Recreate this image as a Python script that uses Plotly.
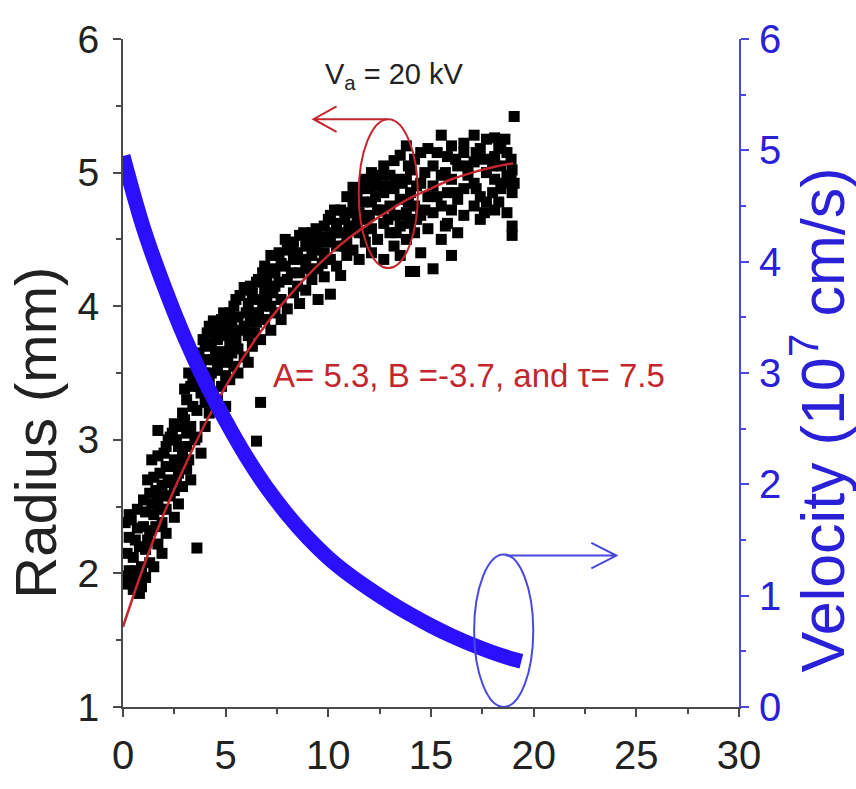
import plotly.graph_objects as go

# ---------------- data ----------------
scatter_t = [
    0.1, 0.1, 0.3, 0.3, 0.3, 0.5, 0.5, 0.7, 0.7, 0.7, 0.9, 0.9,
    1.1, 1.1, 1.1, 1.3, 1.3, 1.3, 1.5, 1.5, 1.5, 1.7, 1.7, 1.7, 1.7,
    1.9, 1.9, 1.9, 2.1, 2.1, 2.1, 2.1, 2.3, 2.3, 2.3, 2.5, 2.5, 2.5, 2.5,
    2.7, 2.7, 2.7, 2.9, 2.9, 2.9, 3.1, 3.1, 3.1, 3.1, 3.3, 3.3, 3.3,
    3.6, 3.6, 3.6, 3.6, 3.8, 3.8, 3.8, 4.0, 4.0, 4.0, 4.0, 4.2, 4.2, 4.2,
    4.4, 4.4, 4.4, 4.6, 4.6, 4.6, 4.8, 4.8, 4.8, 5.0, 5.0, 5.0, 5.0,
    5.2, 5.2, 5.2, 5.4, 5.4, 5.4, 5.6, 5.6, 5.6, 5.9, 5.9, 5.9,
    6.1, 6.1, 6.1, 6.3, 6.3, 6.3, 6.5, 6.5, 6.5, 6.7, 6.7, 6.7,
    6.9, 6.9, 6.9, 7.2, 7.2, 7.2, 7.4, 7.4, 7.4, 7.7, 7.7, 7.7,
    8.0, 8.0, 8.0, 8.3, 8.3, 8.3, 8.6, 8.6, 8.6, 8.9, 8.9, 8.9,
    9.2, 9.2, 9.2, 9.5, 9.5, 9.5, 9.8, 9.8, 9.8, 10.1, 10.1, 10.1, 10.1,
    10.4, 10.4, 10.4, 10.6, 10.6, 10.6, 10.9, 10.9, 10.9,
    11.2, 11.2, 11.2, 11.2, 11.5, 11.5, 11.5, 11.5, 11.8, 11.8, 11.8,
    12.1, 12.1, 12.1, 12.1, 12.4, 12.4, 12.4, 12.7, 12.7, 12.7, 12.7,
    13.0, 13.0, 13.0, 13.2, 13.2, 13.2, 13.2, 13.5, 13.5, 13.5, 13.5,
    13.8, 13.8, 13.8, 13.8, 14.0, 14.0, 14.0, 14.0, 14.2, 14.2, 14.2, 14.2,
    14.5, 14.5, 14.5, 14.5, 14.85, 14.85, 14.85, 15.1, 15.1, 15.1, 15.1,
    15.5, 15.5, 15.5, 15.5, 15.8, 15.8, 15.8, 16.0, 16.0, 16.0, 16.0,
    16.3, 16.3, 16.3, 16.6, 16.6, 16.6, 16.6, 17.1, 17.1, 17.1, 17.1,
    17.4, 17.4, 17.4, 17.7, 17.7, 17.7, 18.1, 18.1, 18.1, 18.1,
    18.4, 18.4, 18.4, 18.7, 18.7, 18.7, 18.95, 18.95, 18.95, 18.95,
    19.05, 19.05,
    # second pass of points (denser parts of the band)
    0.2, 0.2, 0.4, 0.4, 0.6, 0.6, 0.8, 0.8, 1.0, 1.0, 1.2, 1.2,
    1.4, 1.4, 1.6, 1.6, 1.8, 1.8, 2.0, 2.0, 2.2, 2.2, 2.4, 2.4,
    2.6, 2.6, 2.8, 2.8, 3.0, 3.0, 3.2, 3.2, 3.4, 3.4, 3.5, 3.5,
    3.7, 3.7, 3.9, 3.9, 4.1, 4.1, 4.3, 4.3, 4.5, 4.5, 4.7, 4.7,
    4.9, 4.9, 5.1, 5.1, 5.3, 5.3, 5.5, 5.5, 5.7, 5.7, 6.0, 6.0,
    6.2, 6.2, 6.4, 6.4, 6.6, 6.6, 6.8, 6.8, 7.0, 7.0, 7.3, 7.3,
    7.6, 7.6, 7.9, 7.9, 8.2, 8.2, 8.5, 8.5, 8.8, 8.8, 9.0, 9.0,
    9.4, 9.4, 9.7, 9.7, 10.0, 10.0, 10.3, 10.3, 10.8, 10.8, 11.0, 11.0,
    11.4, 11.4, 11.7, 11.7, 12.0, 12.0, 12.3, 12.3, 12.6, 12.6, 12.9, 12.9,
    13.3, 13.3, 13.6, 13.6, 13.9, 13.9, 14.3, 14.3, 14.7, 14.7, 15.3, 15.3,
    15.7, 15.7, 16.2, 16.2, 16.8, 16.8, 17.2, 17.2, 17.6, 17.6, 18.0, 18.0,
    18.3, 18.3, 18.6, 18.6, 18.9, 18.9,
]
scatter_r = [
    1.92, 2.38, 2.02, 2.27, 2.44, 1.88, 2.12, 1.95, 2.34, 2.48, 2.05, 1.90,
    2.18, 2.46, 1.97, 2.32, 2.60, 2.08, 2.05, 2.44, 2.72, 2.22, 2.55, 3.07, 2.88,
    2.38, 2.66, 2.15, 2.48, 2.80, 2.95, 2.30, 2.58, 2.70, 3.02, 2.42, 2.85, 3.12, 2.62,
    2.75, 2.95, 2.52, 2.88, 3.20, 2.65, 2.95, 3.05, 3.30, 2.78, 3.10, 2.70, 3.40,
    2.19, 3.22, 3.02, 3.48, 3.35, 2.90, 3.58, 3.28, 3.50, 3.10, 3.70, 3.45, 3.85, 3.20,
    3.89, 3.60, 3.35, 3.52, 3.75, 3.30, 3.66, 3.40, 3.90, 3.58, 3.82, 3.25, 3.48,
    3.72, 3.95, 3.45, 3.80, 3.55, 4.00, 3.68, 3.92, 3.50, 4.14, 3.85, 3.62,
    3.78, 4.02, 3.58, 3.95, 3.70, 4.10, 2.99, 3.88, 4.18, 3.28, 4.05, 3.75,
    4.12, 3.90, 4.30, 4.38, 4.00, 3.82, 4.15, 3.95, 4.25, 4.05, 4.32, 3.90,
    4.20, 4.42, 3.98, 4.10, 4.35, 4.48, 4.53, 4.25, 4.02, 4.30, 4.45, 4.12,
    4.38, 4.20, 4.55, 4.28, 4.48, 4.05, 4.40, 4.60, 4.22, 4.09, 4.52, 4.35, 4.68,
    4.45, 4.62, 4.30, 4.23, 4.72, 4.55, 4.50, 4.82, 4.38,
    4.89, 4.60, 4.42, 4.75, 4.55, 4.70, 4.35, 4.88, 4.65, 4.95, 4.48,
    4.58, 4.78, 4.40, 5.00, 4.72, 4.50, 4.90, 4.62, 4.85, 4.35, 5.05,
    4.75, 4.55, 4.98, 5.09, 4.68, 4.45, 4.88, 5.13, 4.80, 4.60, 4.38,
    4.70, 4.95, 4.50, 5.20, 4.85, 4.62, 4.26, 5.02, 4.26, 4.75, 5.10, 4.55,
    4.92, 4.68, 4.40, 5.15, 5.18, 4.82, 4.58, 4.28, 4.90, 4.70, 5.05,
    5.28, 4.75, 4.50, 4.98, 4.85, 5.12, 4.62, 4.38, 4.95, 5.20, 4.72,
    4.80, 5.05, 4.55, 5.15, 4.88, 4.68, 5.22, 5.28, 4.92, 4.75, 5.08,
    4.82, 5.18, 4.65, 5.00, 5.25, 4.78, 5.26, 4.95, 4.72, 5.12,
    4.88, 5.05, 5.20, 4.98, 4.70, 5.15, 4.53, 4.60, 5.02, 4.85,
    5.42, 4.92,
    # second pass
    2.15, 1.98, 2.40, 1.95, 2.25, 2.02, 2.20, 1.85, 2.35, 2.55, 2.70, 2.25,
    2.52, 2.85, 2.35, 2.62, 2.75, 2.48, 2.58, 2.90, 2.68, 3.00, 2.80, 3.05,
    3.00, 2.68, 3.10, 2.82, 3.15, 3.38, 2.85, 3.50, 3.25, 3.45, 3.60, 3.00,
    3.40, 3.65, 3.75, 3.45, 3.60, 3.80, 3.72, 3.50, 3.82, 3.65, 3.88, 3.60,
    3.78, 3.95, 3.85, 3.62, 3.65, 3.88, 4.05, 3.75, 3.82, 4.08, 3.95, 4.12,
    4.15, 3.88, 4.05, 3.80, 4.20, 3.95, 4.25, 4.00, 4.08, 4.20, 4.28, 4.10,
    4.40, 4.18, 4.30, 4.50, 4.25, 4.45, 4.40, 4.15, 4.55, 4.35, 4.50, 4.28,
    4.42, 4.58, 4.52, 4.32, 4.65, 4.48, 4.55, 4.72, 4.65, 4.45, 4.70, 4.58,
    4.82, 4.62, 4.78, 4.55, 4.88, 4.68, 4.82, 4.95, 4.72, 4.98, 4.65, 4.90,
    4.95, 4.55, 4.92, 4.68, 5.05, 4.78, 4.90, 4.65, 5.00, 4.72, 5.15, 4.82,
    5.00, 4.60, 5.10, 4.85, 4.98, 5.05, 5.15, 4.88, 5.10, 4.70, 5.05, 4.85,
    5.18, 4.78, 5.25, 4.92, 4.95, 5.10,
]

fit_t = [0, 1, 2, 3, 4, 5, 6, 7, 8, 9, 10, 11, 12, 13, 14, 15, 16, 17, 18, 19]
fit_r = [1.60, 2.05, 2.45, 2.80, 3.12, 3.40, 3.65, 3.87, 4.06, 4.23,
         4.38, 4.51, 4.62, 4.72, 4.81, 4.88, 4.95, 5.00, 5.04, 5.07]

vel_t = [0, 1, 2, 3, 4, 5, 6, 7, 8, 9, 10, 11, 12, 13, 14, 15, 16, 17, 18, 19, 19.4]
vel_v = [4.95, 4.30, 3.78, 3.32, 2.92, 2.57, 2.25, 1.97, 1.73, 1.52,
         1.34, 1.19, 1.06, 0.94, 0.83, 0.73, 0.64, 0.56, 0.49, 0.43, 0.41]

x_ticks = [0, 5, 10, 15, 20, 25, 30]
r_ticks = [1, 2, 3, 4, 5, 6]
v_ticks = [0, 1, 2, 3, 4, 5, 6]

fit_text = "A= 5.3, B =-3.7, and \u03c4= 7.5"
volt_text = "V<sub>a</sub> = 20 kV"

# ---------------- styles ----------------
FONT = "Liberation Sans, Arial, sans-serif"
DARK = "#222222"
AXIS = "#4a4a4a"
RED = "#c4262e"
BLUE = "#2a10ff"
BLUE_AX = "#4848e0"
BLUE_TXT = "#2a20d8"

fig = go.Figure()

fig.add_trace(go.Scatter(
    x=scatter_t, y=scatter_r, mode="markers",
    marker=dict(symbol="square", size=11, color="black", line=dict(width=0)),
    showlegend=False, yaxis="y"))

fig.add_trace(go.Scatter(
    x=fit_t, y=fit_r, mode="lines", line=dict(color=RED, width=2.5, shape="spline"),
    showlegend=False, yaxis="y"))

fig.add_trace(go.Scatter(
    x=vel_t, y=vel_v, mode="lines", line=dict(color=BLUE, width=15, shape="spline"),
    showlegend=False, yaxis="y2"))

fig.update_layout(
    width=856, height=789,
    margin=dict(l=123, r=117, t=39, b=64),
    paper_bgcolor="white", plot_bgcolor="white",
    font=dict(family=FONT, color=DARK),
    xaxis=dict(
        range=[0, 30], tickvals=x_ticks, showgrid=False, zeroline=False,
        showline=True, linecolor=AXIS, linewidth=2,
        ticks="outside", ticklen=8, tickwidth=2, tickcolor=AXIS,
        minor=dict(ticks="outside", ticklen=5, tickwidth=2, tickcolor=AXIS, dtick=2.5, showgrid=False),
        tickfont=dict(size=40, color=DARK, family=FONT), ticklabelstandoff=4,
    ),
    yaxis=dict(
        range=[1, 6], tickvals=r_ticks, showgrid=False, zeroline=False,
        showline=True, linecolor=AXIS, linewidth=2,
        ticks="outside", ticklen=8, tickwidth=2, tickcolor=AXIS,
        minor=dict(ticks="outside", ticklen=5, tickwidth=2, tickcolor=AXIS, dtick=0.5, showgrid=False),
        tickfont=dict(size=39, color=DARK, family=FONT), ticklabelstandoff=6,
    ),
    yaxis2=dict(
        range=[0, 6], tickvals=v_ticks, overlaying="y", side="right", anchor="x",
        showgrid=False, zeroline=False,
        showline=True, linecolor=BLUE_AX, linewidth=2,
        ticks="outside", ticklen=8, tickwidth=2, tickcolor=BLUE_AX,
        minor=dict(ticks="outside", ticklen=5, tickwidth=2, tickcolor=BLUE_AX, dtick=0.5, showgrid=False),
        tickfont=dict(size=40, color=BLUE_TXT, family=FONT), ticklabelstandoff=2,
    ),
)

# axis titles as annotations for precise placement
fig.add_annotation(text="Radius (mm)", xref="paper", yref="paper", x=-0.142, y=0.41,
                   textangle=-90, showarrow=False, xanchor="center", yanchor="middle",
                   font=dict(size=58, color=DARK, family=FONT))
fig.add_annotation(text="Velocity (10<sup>7</sup> cm/s)", xref="paper", yref="paper", x=1.128, y=0.43,
                   textangle=-90, showarrow=False, xanchor="center", yanchor="middle",
                   font=dict(size=61, color=BLUE_TXT, family=FONT))

fig.add_annotation(text=volt_text, xref="paper", yref="paper", x=0.44, y=0.945,
                   showarrow=False, xanchor="center", yanchor="middle",
                   font=dict(size=29, color=DARK, family=FONT))
fig.add_annotation(text=fit_text, xref="x", yref="y", x=7.2, y=3.48,
                   showarrow=False, xanchor="left", yanchor="middle",
                   font=dict(size=33, color=RED, family=FONT))

# red ellipse + arrow (left axis)
fig.add_shape(type="circle", xref="x", yref="y", x0=11.48, x1=14.36, y0=4.285, y1=5.40,
              line=dict(color=RED, width=2))
fig.add_shape(type="path", xref="x", yref="y",
              path="M 12.85,5.40 L 9.28,5.40 M 10.40,5.495 L 9.28,5.40 L 10.40,5.305",
              line=dict(color=RED, width=2))

# blue ellipse + arrow (right axis)
fig.add_shape(type="circle", xref="x", yref="y2", x0=17.1, x1=19.98, y0=0.0, y1=1.37,
              line=dict(color=BLUE_AX, width=2))
fig.add_shape(type="path", xref="x", yref="y2",
              path="M 18.66,1.36 L 24.03,1.36 M 22.81,1.474 L 24.03,1.36 L 22.81,1.246",
              line=dict(color=BLUE_AX, width=2))

fig.write_html("out.html")
